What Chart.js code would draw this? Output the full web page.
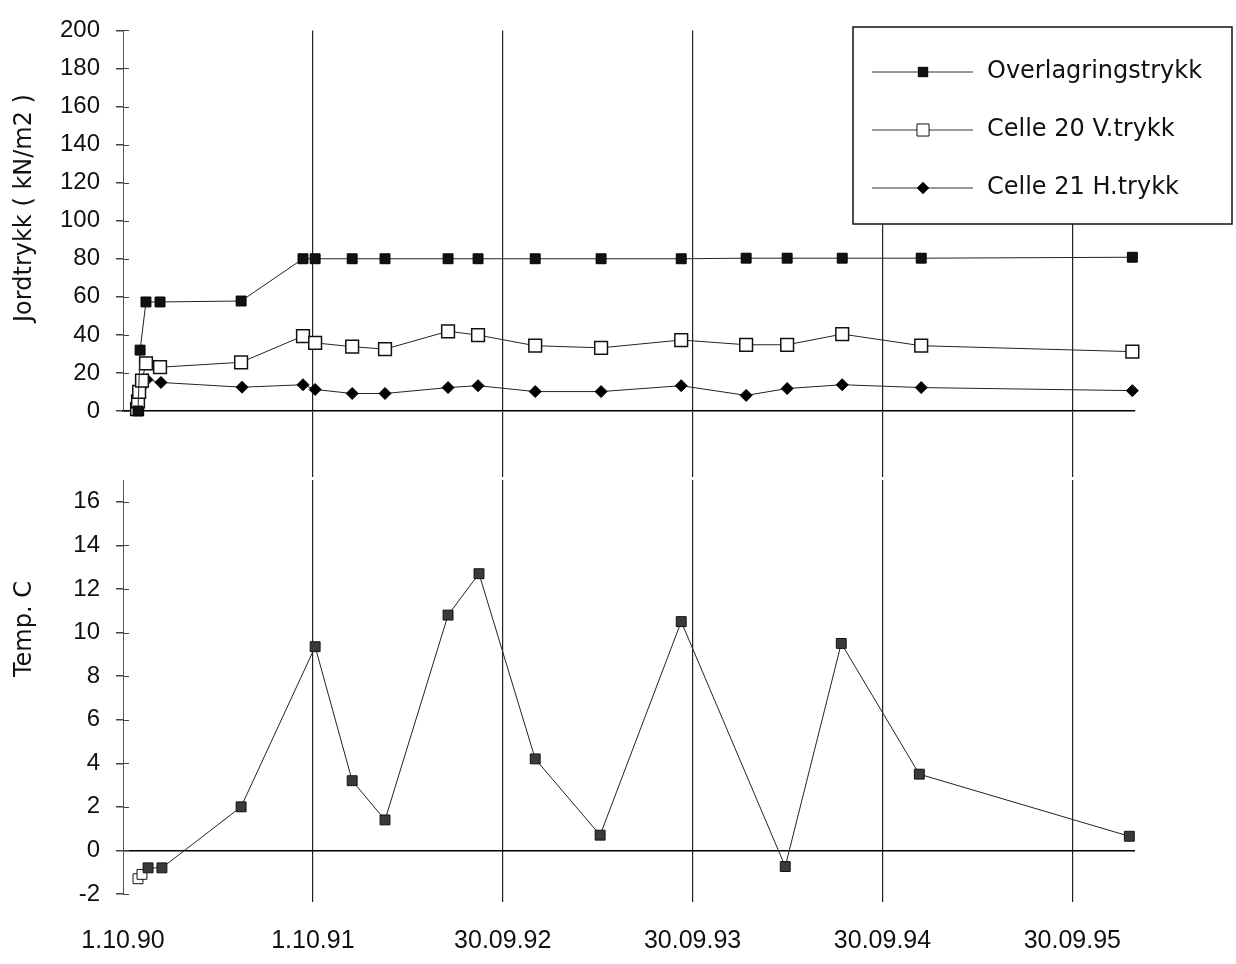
<!DOCTYPE html>
<html>
<head>
<meta charset="utf-8">
<script src="https://cdn.jsdelivr.net/npm/chart.js@4.4.1/dist/chart.umd.min.js"></script>
<style>
  html, body { margin: 0; padding: 0; background: #fff; }
  #wrap { position: relative; width: 1236px; height: 964px; }
  #wrap canvas { position: absolute; left: 0; top: 0; }
</style>
</head>
<body>
<div id="wrap">
  <canvas id="tempChart" width="1236" height="964"></canvas>
  <canvas id="pressChart" width="1236" height="964"></canvas>
</div>
<script>
// x values are years after 1.10.90
const dateLabels = ['1.10.90', '1.10.91', '30.09.92', '30.09.93', '30.09.94', '30.09.95'];

const overX = [0.079, 0.090, 0.121, 0.195, 0.622, 0.948, 1.012, 1.207, 1.380, 1.712, 1.870, 2.171, 2.518, 2.940, 3.282, 3.498, 3.788, 4.204, 5.316];
const overY = [0, 32, 57.3, 57.3, 57.8, 80, 80, 80, 80, 80, 80, 80, 80, 80, 80.3, 80.3, 80.3, 80.3, 80.8];

const cell20X = [0.074, 0.079, 0.085, 0.100, 0.121, 0.195, 0.622, 0.948, 1.012, 1.207, 1.380, 1.712, 1.870, 2.171, 2.518, 2.940, 3.282, 3.498, 3.788, 4.204, 5.316];
const cell20Y = [1, 5, 10, 16, 25, 23, 25.6, 39.4, 35.8, 33.8, 32.5, 41.9, 39.9, 34.3, 33.2, 37.3, 34.8, 34.8, 40.4, 34.3, 31.2];

const cell21X = [0.079, 0.085, 0.095, 0.126, 0.200, 0.627, 0.948, 1.012, 1.207, 1.380, 1.712, 1.870, 2.171, 2.518, 2.940, 3.282, 3.498, 3.788, 4.204, 5.316];
const cell21Y = [3.6, 8.2, 12.3, 16.5, 15, 12.5, 13.8, 11.3, 9.2, 9.2, 12.3, 13.3, 10.2, 10.2, 13.3, 8.2, 11.8, 13.8, 12.3, 10.7];

const tempX = [0.079, 0.100, 0.132, 0.205, 0.622, 1.012, 1.207, 1.380, 1.712, 1.875, 2.171, 2.513, 2.940, 3.488, 3.783, 4.194, 5.300];
const tempY = [-1.3, -1.1, -0.8, -0.8, 2.0, 9.35, 3.2, 1.4, 10.8, 12.7, 4.2, 0.7, 10.5, -0.74, 9.5, 3.5, 0.65];

const pts = (xs, ys) => xs.map((x, i) => ({ x: x, y: ys[i] }));

const tickFont = { family: '"Liberation Sans", Arial, sans-serif', size: 24 };
const gridCol = '#222';

const sideTitle = {
  id: 'sideTitle',
  afterDraw(chart, args, opts) {
    const ctx = chart.ctx;
    ctx.save();
    ctx.translate(opts.x, opts.y);
    ctx.rotate(-Math.PI / 2);
    ctx.font = '24px "DejaVu Sans"';
    ctx.fillStyle = '#111';
    ctx.textAlign = 'center';
    ctx.textBaseline = 'middle';
    ctx.fillText(opts.text, 0, 0);
    ctx.restore();
  }
};

// small ticks on the inner side of the y axis, like the original
const innerTicks = {
  id: 'innerTicks',
  afterDraw(chart) {
    const ctx = chart.ctx;
    const y = chart.scales.y;
    ctx.save();
    ctx.strokeStyle = '#444';
    ctx.lineWidth = 1;
    y.ticks.forEach(t => {
      const py = Math.round(y.getPixelForValue(t.value)) + 0.5;
      ctx.beginPath();
      ctx.moveTo(y.right, py);
      ctx.lineTo(y.right + 6, py);
      ctx.stroke();
    });
    ctx.restore();
  }
};

const boxLegend = {
  id: 'boxLegend',
  afterDraw(chart, args, opts) {
    if (!opts.box) return;
    const ctx = chart.ctx;
    const b = opts.box;
    ctx.save();
    ctx.fillStyle = '#fff';
    ctx.fillRect(b.left, b.top, b.width, b.height);
    ctx.strokeStyle = '#111';
    ctx.lineWidth = 1.5;
    ctx.strokeRect(b.left, b.top, b.width, b.height);
    chart.data.datasets.forEach((ds, i) => {
      const y = b.top + 45 + i * 58;
      ctx.strokeStyle = '#333';
      ctx.lineWidth = 1;
      ctx.beginPath();
      ctx.moveTo(b.left + 19, y);
      ctx.lineTo(b.left + 120, y);
      ctx.stroke();
      ctx.fillStyle = ds.pointBackgroundColor;
      ctx.strokeStyle = ds.pointBorderColor;
      Chart.helpers.drawPoint(ctx, {
        pointStyle: ds.pointStyle,
        radius: ds.pointRadius * 0.95,
        borderWidth: ds.pointBorderWidth,
        rotation: 0
      }, b.left + 70, y);
      ctx.fillStyle = '#111';
      ctx.font = '24px "DejaVu Sans"';
      ctx.textAlign = 'left';
      ctx.textBaseline = 'middle';
      ctx.fillText(ds.label, b.left + 134, y);
    });
    ctx.restore();
  }
};

function xScale(showLabels, height, tickLen) {
  return {
    type: 'linear',
    min: 0,
    max: 5.33,
    afterFit: s => { s.height = height; },
    border: { display: !showLabels, color: '#000', width: 1.5 },
    grid: {
      drawOnChartArea: true,
      tickLength: tickLen,
      lineWidth: 1.2,
      color: c => c.tick && c.tick.value === 0 ? 'rgba(0,0,0,0)' : gridCol
    },
    ticks: {
      display: showLabels,
      stepSize: 1,
      includeBounds: false,
      autoSkip: false,
      maxRotation: 0,
      padding: 24,
      color: '#111',
      font: { family: '"Liberation Sans", Arial, sans-serif', size: 25 },
      callback: v => dateLabels[v] ?? ''
    }
  };
}

function yScale(min, max, step, zeroLine) {
  return {
    min: min,
    max: max,
    afterFit: s => { s.width = 123; },
    border: { display: true, color: '#555', width: 1 },
    grid: {
      drawOnChartArea: zeroLine,
      tickLength: 7,
      tickColor: '#444',
      lineWidth: 1.5,
      color: c => zeroLine && c.tick && c.tick.value === 0 ? '#000' : 'rgba(0,0,0,0)'
    },
    ticks: {
      stepSize: step,
      includeBounds: false,
      padding: 16,
      color: '#111',
      font: tickFont
    }
  };
}

const lineBase = { borderColor: '#222', borderWidth: 1, tension: 0, clip: false, fill: false };

new Chart(document.getElementById('pressChart'), {
  type: 'line',
  data: {
    datasets: [
      Object.assign({}, lineBase, {
        label: 'Overlagringstrykk',
        data: pts(overX, overY),
        pointStyle: 'rect', pointRadius: 7,
        pointBackgroundColor: '#111', pointBorderColor: '#000', pointBorderWidth: 1
      }),
      Object.assign({}, lineBase, {
        label: 'Celle 20 V.trykk',
        data: pts(cell20X, cell20Y),
        pointStyle: 'rect', pointRadius: 9,
        pointBackgroundColor: '#fff', pointBorderColor: '#111', pointBorderWidth: 1.5
      }),
      Object.assign({}, lineBase, {
        label: 'Celle 21 H.trykk',
        data: pts(cell21X, cell21Y),
        pointStyle: 'rectRot', pointRadius: 6,
        pointBackgroundColor: '#000', pointBorderColor: '#000', pointBorderWidth: 1
      })
    ]
  },
  options: {
    responsive: false,
    animation: false,
    events: [],
    layout: { padding: { top: 20, right: 101, bottom: 484, left: 0 } },
    scales: {
      x: xScale(false, 69, 66),
      y: yScale(0, 200, 20, false)
    },
    plugins: {
      legend: { display: false },
      tooltip: { enabled: false },
      sideTitle: { text: 'Jordtrykk ( kN/m2 )', x: 25, y: 208 },
      boxLegend: { box: { left: 853, top: 27, width: 379, height: 197 } }
    }
  },
  plugins: [innerTicks, sideTitle, boxLegend]
});

new Chart(document.getElementById('tempChart'), {
  type: 'line',
  data: {
    datasets: [
      Object.assign({}, lineBase, {
        label: 'Temp. C',
        data: pts(tempX, tempY),
        pointStyle: 'rect', pointRadius: 7,
        pointBackgroundColor: tempY.map((v, i) => i < 2 ? '#fff' : '#3a3a3a'),
        pointBorderColor: '#111', pointBorderWidth: 1
      })
    ]
  },
  options: {
    responsive: false,
    animation: false,
    events: [],
    layout: { padding: { top: 480, right: 101, bottom: 0, left: 0 } },
    scales: {
      x: xScale(true, 70, 8),
      y: yScale(-2, 17, 2, true)
    },
    plugins: {
      legend: { display: false },
      tooltip: { enabled: false },
      sideTitle: { text: 'Temp. C', x: 25, y: 629 }
    }
  },
  plugins: [innerTicks, sideTitle]
});
</script>
</body>
</html>
